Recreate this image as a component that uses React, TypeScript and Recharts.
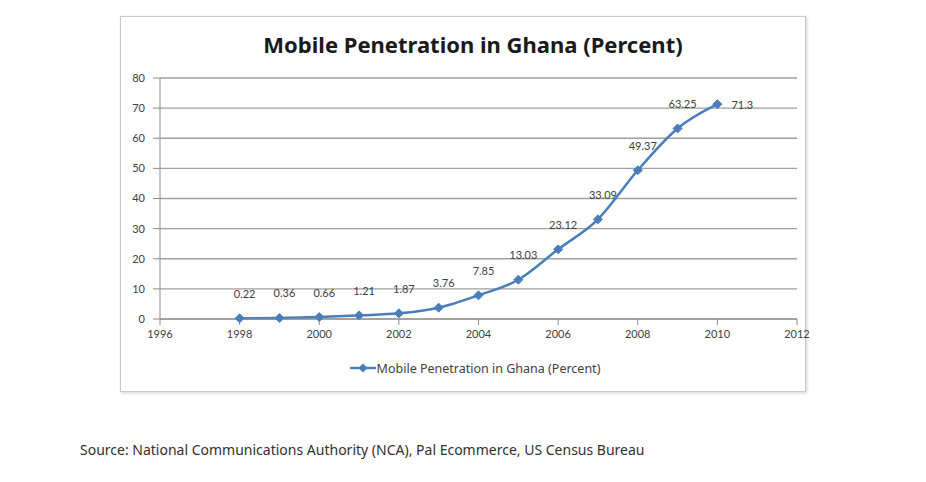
import { LineChart, Line, XAxis, YAxis, CartesianGrid, Legend, LabelList } from 'recharts';

const years = [1998, 1999, 2000, 2001, 2002, 2003, 2004, 2005, 2006, 2007, 2008, 2009, 2010];
const penetration = [0.22, 0.36, 0.66, 1.21, 1.87, 3.76, 7.85, 13.03, 23.12, 33.09, 49.37, 63.25, 71.3];
const yearTicks = [1996, 1998, 2000, 2002, 2004, 2006, 2008, 2010, 2012];
const percentTicks = [0, 10, 20, 30, 40, 50, 60, 70, 80];

const seriesName = 'Mobile Penetration in Ghana (Percent)';
const chartTitle = 'Mobile Penetration in Ghana (Percent)';
const sourceNote = 'Source: National Communications Authority (NCA), Pal Ecommerce, US Census Bureau';

const data = years.map((year, i) => ({ year, value: penetration[i] }));

const BLUE = '#4a7ebb';
const TEXT = '#404040';
const FONT = '"Noto Sans", Lato, sans-serif';
const TICK_FONT = 'Lato, "Noto Sans", sans-serif';

const Diamond = (props: any) => {
  const { cx, cy, index } = props;
  if (cx == null || cy == null) return null;
  const r = 4.5;
  return (
    <path
      key={`d-${index}`}
      d={`M${cx},${cy - r}L${cx + r},${cy}L${cx},${cy + r}L${cx - r},${cy}Z`}
      fill={BLUE}
      stroke={BLUE}
    />
  );
};

// values sit above their point; the final one goes to the right of the line end
const PointLabel = (props: any) => {
  const { x, y, value, index } = props;
  const last = index === data.length - 1;
  return (
    <text
      x={last ? x + 14 : x + 5}
      y={last ? y : y - 25}
      textAnchor={last ? 'start' : 'middle'}
      dominantBaseline="central"
      fontSize={11}
      fontFamily={TICK_FONT}
      fill={TEXT}
    >
      {value}
    </text>
  );
};

const LegendBox = () => (
  <div
    style={{
      height: 20,
      display: 'flex',
      alignItems: 'center',
      justifyContent: 'center',
      paddingLeft: 33,
      fontFamily: FONT,
      fontSize: 12.5,
      color: TEXT,
    }}
  >
    <svg width={26} height={12} style={{ marginRight: 1 }}>
      <line x1={0} y1={6} x2={26} y2={6} stroke={BLUE} strokeWidth={2.5} />
      <path d="M13,1.5L17.5,6L13,10.5L8.5,6Z" fill={BLUE} />
    </svg>
    {seriesName}
  </div>
);

export default function App() {
  return (
    <div
      style={{
        position: 'absolute',
        left: 0,
        top: 0,
        width: 926,
        height: 482,
        background: '#ffffff',
        fontFamily: FONT,
        overflow: 'hidden',
      }}
    >
      <div
        style={{
          position: 'absolute',
          left: 120,
          top: 16,
          width: 684,
          height: 374,
          border: '1px solid #c8c8c8',
          boxShadow: '1px 1px 3px rgba(0,0,0,0.18)',
          background: '#ffffff',
        }}
      />
      <div
        style={{
          position: 'absolute',
          left: 120,
          width: 706,
          top: 29,
          textAlign: 'center',
          fontSize: 22,
          fontWeight: 700,
          color: '#1a1a1a',
          whiteSpace: 'nowrap',
        }}
      >
        {chartTitle}
      </div>
      <div style={{ position: 'absolute', left: 0, top: 0 }}>
        <LineChart width={926} height={400} data={data} margin={{ top: 78, right: 129, bottom: 22, left: 120 }}>
          <CartesianGrid vertical={false} stroke="#a0a0a0" strokeWidth={1.3} />
          <XAxis
            dataKey="year"
            type="number"
            domain={[1996, 2012]}
            ticks={yearTicks}
            height={39}
            tickSize={6}
            tickMargin={5}
            stroke="#8c8c8c"
            tick={{ fontSize: 11, fill: TEXT, fontFamily: TICK_FONT }}
          />
          <YAxis
            type="number"
            domain={[0, 80]}
            ticks={percentTicks}
            width={40}
            tickSize={7}
            tickMargin={8}
            stroke="#8c8c8c"
            tick={{ fontSize: 11, fill: TEXT, fontFamily: TICK_FONT }}
          />
          <Legend verticalAlign="bottom" content={<LegendBox />} />
          <Line
            type="monotone"
            dataKey="value"
            name={seriesName}
            stroke={BLUE}
            strokeWidth={2.5}
            dot={<Diamond />}
            activeDot={false}
            isAnimationActive={false}
          >
            <LabelList dataKey="value" content={<PointLabel />} />
          </Line>
        </LineChart>
      </div>
      <div
        style={{
          position: 'absolute',
          left: 80,
          top: 440,
          fontSize: 14,
          color: '#303030',
          whiteSpace: 'nowrap',
        }}
      >
        {sourceNote}
      </div>
    </div>
  );
}
